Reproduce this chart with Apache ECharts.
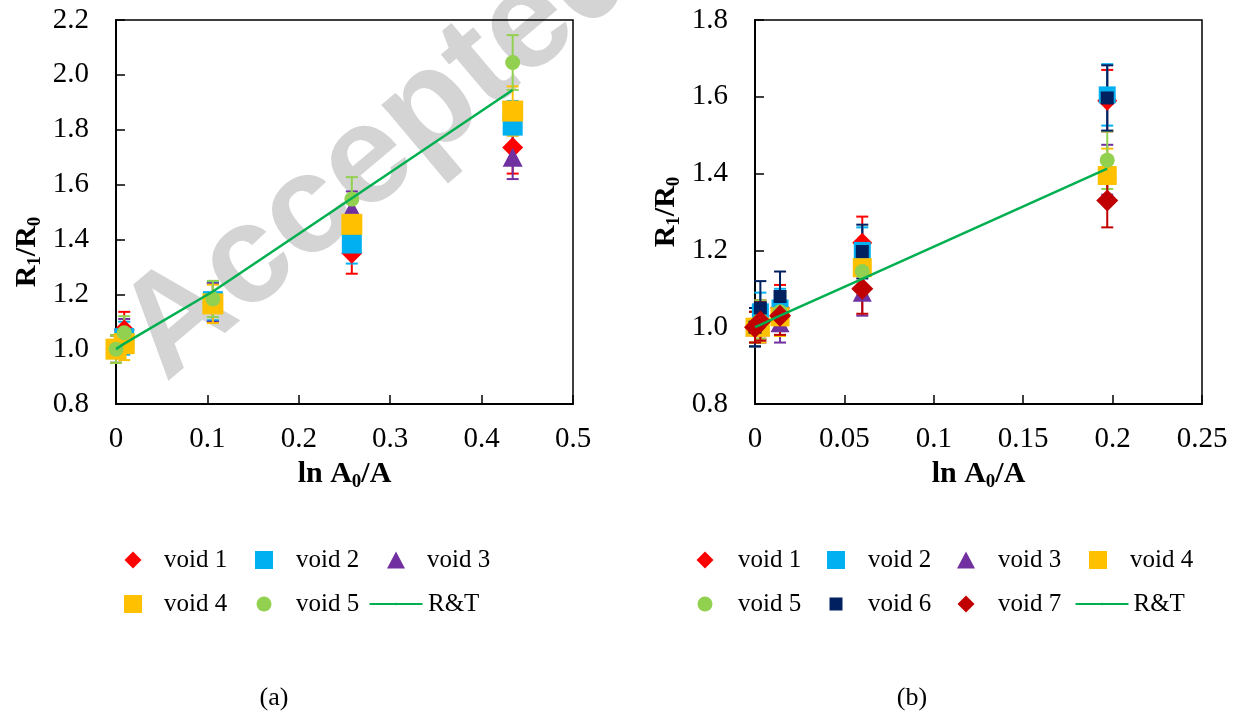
<!DOCTYPE html>
<html><head><meta charset="utf-8">
<script src="https://cdn.jsdelivr.net/npm/echarts@6/dist/echarts.min.js"></script>
<style>html,body{margin:0;padding:0;background:#fff}#c{width:1242px;height:715px}</style>
</head><body><div id="c"></div>
<script>
// ---------- DATA ----------
// Panel (a)
const xTickLabelsA = ['0','0.1','0.2','0.3','0.4','0.5'];
const yTickLabelsA = ['0.8','1.0','1.2','1.4','1.6','1.8','2.0','2.2'];
const xA = [0, 0.009, 0.106, 0.258, 0.434];
const a_void1 = [1.00, 1.070, 1.170, 1.350, 1.735];
const a_void1_err = [0.05, 0.066, 0.070, 0.075, 0.095];
const a_void2 = [1.00, 1.040, 1.175, 1.385, 1.815];
const a_void2_err = [0.05, 0.060, 0.070, 0.073, 0.090];
const a_void3 = [1.00, 1.050, 1.170, 1.510, 1.700];
const a_void3_err = [0.05, 0.060, 0.070, 0.065, 0.080];
const a_void4 = [1.00, 1.020, 1.165, 1.455, 1.868];
const a_void4_err = [0.05, 0.060, 0.070, 0.080, 0.090];
const a_void5 = [1.00, 1.060, 1.183, 1.547, 2.045];
const a_void5_err = [0.05, 0.060, 0.066, 0.080, 0.100];
const a_RT = [1.00, 1.020, 1.210, 1.550, 1.945];

// Panel (b)
const xTickLabelsB = ['0','0.05','0.1','0.15','0.2','0.25'];
const yTickLabelsB = ['0.8','1.0','1.2','1.4','1.6','1.8'];
const xB = [0, 0.003, 0.014, 0.060, 0.197];
const b_void1 = [1.00, 1.020, 1.050, 1.220, 1.590];
const b_void1_err = [0.05, 0.050, 0.060, 0.068, 0.080];
const b_void2 = [1.00, 1.040, 1.050, 1.200, 1.605];
const b_void2_err = [0.05, 0.050, 0.050, 0.060, 0.080];
const b_void3 = [1.00, 1.000, 1.010, 1.090, 1.410];
const b_void3_err = [0.04, 0.040, 0.050, 0.060, 0.065];
const b_void4 = [1.00, 1.000, 1.027, 1.155, 1.395];
const b_void4_err = [0.04, 0.040, 0.050, 0.060, 0.070];
const b_void5 = [1.00, 1.020, 1.040, 1.145, 1.435];
const b_void5_err = [0.04, 0.050, 0.050, 0.060, 0.075];
const b_void6 = [1.00, 1.050, 1.080, 1.197, 1.597];
const b_void6_err = [0.05, 0.070, 0.065, 0.070, 0.085];
const b_void7 = [1.00, 1.015, 1.030, 1.100, 1.330];
const b_void7_err = [0.04, 0.050, 0.050, 0.065, 0.070];
const b_RT = [1.00, 1.006, 1.030, 1.126, 1.413];

// ---------- STYLE ----------
const SERIF = 'Liberation Serif, Times New Roman, serif';
const C = {red:'#ff0000', blue:'#00b0f0', purple:'#7030a0', yellow:'#ffc000', green:'#92d050', navy:'#002060', dred:'#c00000', line:'#00b050'};

function errRender(color){
  return function(params, api){
    const x = api.value(0), y = api.value(1), e = api.value(2);
    const hi = api.coord([x, y + e]), lo = api.coord([x, y - e]);
    const hw = 6, st = {stroke: color, lineWidth: 2};
    return {type:'group', children:[
      {type:'line', shape:{x1:hi[0], y1:hi[1], x2:lo[0], y2:lo[1]}, style:st},
      {type:'line', shape:{x1:hi[0]-hw, y1:hi[1], x2:hi[0]+hw, y2:hi[1]}, style:st},
      {type:'line', shape:{x1:lo[0]-hw, y1:lo[1], x2:lo[0]+hw, y2:lo[1]}, style:st}
    ]};
  };
}

const series = [];
function addLine(name, xs, ys, gi){
  series.push({type:'line', name, xAxisIndex:gi, yAxisIndex:gi, symbol:'none', silent:true,
    lineStyle:{color:C.line, width:2.5}, itemStyle:{color:C.line},
    data: xs.map((x,i)=>[x, ys[i]])});
}
function addVoid(name, xs, ys, es, color, symbol, size, gi){
  series.push({type:'custom', xAxisIndex:gi, yAxisIndex:gi, silent:true, renderItem: errRender(color),
    encode:{x:0, y:1}, data: xs.map((x,i)=>[x, ys[i], es[i]])});
  series.push({type:'scatter', name, xAxisIndex:gi, yAxisIndex:gi, symbol, symbolSize:size, silent:true,
    itemStyle:{color, opacity:1}, data: xs.map((x,i)=>[x, ys[i]])});
}

addLine('R&T', xA, a_RT, 0);
addVoid('void 1', xA, a_void1, a_void1_err, C.red, 'diamond', [21,21], 0);
addVoid('void 2', xA, a_void2, a_void2_err, C.blue, 'rect', [20,20], 0);
addVoid('void 3', xA, a_void3, a_void3_err, C.purple, 'triangle', [20,19], 0);
addVoid('void 4', xA, a_void4, a_void4_err, C.yellow, 'rect', [21,21], 0);
addVoid('void 5', xA, a_void5, a_void5_err, C.green, 'circle', 15, 0);

addLine('R&T', xB, b_RT, 1);
addVoid('void 1', xB, b_void1, b_void1_err, C.red, 'diamond', [20,20], 1);
addVoid('void 2', xB, b_void2, b_void2_err, C.blue, 'rect', [17,17], 1);
addVoid('void 3', xB, b_void3, b_void3_err, C.purple, 'triangle', [19,18], 1);
addVoid('void 4', xB, b_void4, b_void4_err, C.yellow, 'rect', [19,19], 1);
addVoid('void 5', xB, b_void5, b_void5_err, C.green, 'circle', 15, 1);
addVoid('void 6', xB, b_void6, b_void6_err, C.navy, 'rect', [13,13], 1);
addVoid('void 7', xB, b_void7, b_void7_err, C.dred, 'diamond', [22,22], 1);

const rich = {
  b:{fontFamily:SERIF, fontWeight:'bold', fontSize:30, lineHeight:34, verticalAlign:'top', color:'#000'},
  s:{fontFamily:SERIF, fontWeight:'bold', fontSize:19, lineHeight:20, padding:[14,0,0,0], verticalAlign:'top', color:'#000'}
};
function mkX(gi, min, max, interval, labels){
  return {type:'value', gridIndex:gi, min, max, interval,
    name:'{b|ln A}{s|0}{b|/A}', nameLocation:'middle', nameGap:44, nameTextStyle:{rich},
    axisLine:{onZero:false, lineStyle:{color:'#000', width:2}},
    axisTick:{inside:true, length:9, lineStyle:{color:'#000', width:1.5}},
    splitLine:{show:false},
    axisLabel:{margin:21, fontFamily:SERIF, fontSize:29, color:'#000',
      formatter: v => labels[Math.round((v - min)/interval)]}};
}
function mkY(gi, min, max, interval, labels, shift){
  return {type:'value', gridIndex:gi, min, max, interval,
    name:'{b|R}{s|1}{b|/R}{s|0}', nameLocation:'middle', nameRotate:90, nameGap:70,
    nameTextStyle:{rich, padding:[0, shift, 0, 0]},
    axisLine:{onZero:false, lineStyle:{color:'#000', width:2}},
    axisTick:{inside:true, length:9, lineStyle:{color:'#000', width:1.5}},
    splitLine:{show:false},
    axisLabel:{margin:27, fontFamily:SERIF, fontSize:29, color:'#000',
      formatter: v => labels[Math.round((v - min)/interval)]}};
}

// legend items: [name, iconCenterX, textX, rowCenterY, iconW, iconH]
const legendItems = [
  ['void 1',133,164,560,17,17],['void 2',264,296,560,18,18],['void 3',396,427,560,18,17],
  ['void 4',133,164,604,18,18],['void 5',264,296,604,15,15],['R&T',395,427,604,53,3],
  ['void 1',705,738,560,17,17],['void 2',836,868,560,18,18],['void 3',966,998,560,18,17],['void 4',1098,1130,560,18,18],
  ['void 5',705,738,604,15,15],['void 6',836,868,604,13,13],['void 7',966,998,604,17,17],['R&T',1101,1130,604,53,3]
];
const legends = legendItems.map(([n,cx,tx,cy,w,h]) => ({
  data:[n], left: cx - w/2, top: cy - 14, padding:0, itemWidth:w, itemHeight:h, itemGap:0,
  selectedMode:false, inactiveColor:'#000',
  textStyle:{fontFamily:SERIF, fontSize:25, lineHeight:28, color:'#000', padding:[0,0,0, Math.max(0, tx - (cx - w/2 + w + 5))]}
}));

const chart = echarts.init(document.getElementById('c'), null, {renderer:'canvas'});
chart.setOption({
  backgroundColor:'#fff',
  animation:false,
  grid:[
    {left:116, right:669, top:20, bottom:311, show:true, borderColor:'#000', borderWidth:1.5, outerBoundsMode:'none'},
    {left:755, right:40, top:20, bottom:311, show:true, borderColor:'#000', borderWidth:1.5, outerBoundsMode:'none'}
  ],
  xAxis:[mkX(0, 0, 0.5, 0.1, xTickLabelsA), mkX(1, 0, 0.25, 0.05, xTickLabelsB)],
  yAxis:[mkY(0, 0.8, 2.2, 0.2, yTickLabelsA, 80), mkY(1, 0.8, 1.8, 0.2, yTickLabelsB, 0)],
  legend: legends,
  graphic:[
    {type:'text', x:186, y:407, rotation:0.70, z:-10, silent:true,
      style:{text:'Accepted', font:'bold 140px "Liberation Sans", Arial, sans-serif', fill:'#d4d4d4', align:'left', verticalAlign:'bottom'}},
    {type:'text', x:274, y:698, silent:true, style:{text:'(a)', font:'26px "Liberation Serif", serif', fill:'#000', align:'center', verticalAlign:'middle'}},
    {type:'text', x:912, y:698, silent:true, style:{text:'(b)', font:'26px "Liberation Serif", serif', fill:'#000', align:'center', verticalAlign:'middle'}}
  ],
  series
});
</script></body></html>
